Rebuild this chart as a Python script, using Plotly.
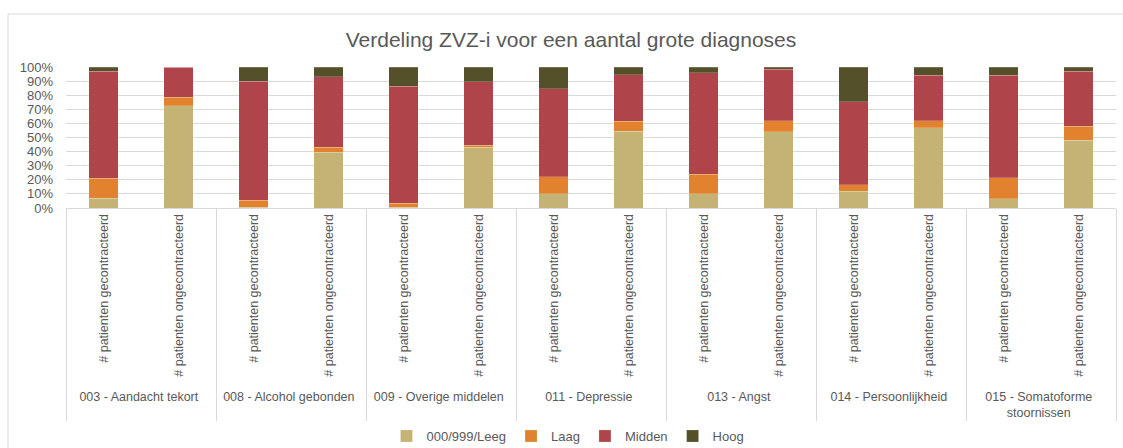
import plotly.graph_objects as go

groups = ["003 - Aandacht tekort", "008 - Alcohol gebonden", "009 - Overige middelen",
          "011 - Depressie", "013 - Angst", "014 - Persoonlijkheid",
          "015 - Somatoforme<br>stoornissen"]
subcats = ["# patienten gecontracteerd", "# patienten ongecontracteerd"]

# values in percent, order: for each group (gecontracteerd, ongecontracteerd)
leeg   = [7, 72.5, 0.5, 39.5, 0.5, 43, 10, 54.5, 10, 54, 12, 57, 6.5, 48]
laag   = [14, 6, 5, 3.5, 3, 1.5, 12, 7, 14, 8, 4.5, 5, 15, 10]
midden = [76, 21.5, 84.5, 50, 83, 45, 62.5, 33, 72, 36.5, 59, 32, 72.5, 39]
hoog   = [3, 0, 10, 7, 13.5, 10.5, 15.5, 5.5, 4, 1.5, 24.5, 6, 6, 3]

series = [("000/999/Leeg", leeg, "#C4B374"),
          ("Laag", laag, "#E2822E"),
          ("Midden", midden, "#B0444B"),
          ("Hoog", hoog, "#54502A")]

x_outer = [g for g in groups for _ in subcats]
x_inner = [s for _ in groups for s in subcats]

fig = go.Figure()
for name, vals, col in series:
    fig.add_trace(go.Bar(x=[x_outer, x_inner], y=vals, name=name,
                         marker=dict(color=col, line=dict(color="rgba(255,255,255,0.4)", width=0.5))))

FONT = "Liberation Sans"
W, H = 1123, 448
ml, mr, mt, mb = 66, 7, 67, 240
pw = W - ml - mr
ph = H - mt - mb

def px2x(px):
    return (px - ml) / pw

def py2y(py):
    return (H - mb - py) / ph

fig.update_layout(
    width=W, height=H,
    margin=dict(l=ml, r=mr, t=mt, b=mb, autoexpand=False),
    barmode="stack",
    bargap=0.61,
    plot_bgcolor="white", paper_bgcolor="white",
    font=dict(family=FONT, color="#595959", size=12),
    title=dict(text="Verdeling ZVZ-i voor een aantal grote diagnoses",
               x=571 / W, xanchor="center", y=1 - 40 / H, yanchor="middle",
               font=dict(size=21, color="#595959", family=FONT), automargin=False),
    legend=dict(orientation="h", xref="paper", yref="paper",
                x=px2x(568), xanchor="center", y=py2y(436), yanchor="middle",
                font=dict(size=13, color="#595959"), traceorder="normal",
                itemwidth=30),
    showlegend=True,
)
fig.update_yaxes(range=[0, 100], dtick=10, ticksuffix="%", showgrid=True,
                 gridcolor="#D9D9D9", gridwidth=1, zeroline=False, automargin=False,
                 tickfont=dict(size=13, color="#595959"), ticks="", showline=False,
                 ticklabelstandoff=12)
fig.update_xaxes(type="multicategory", tickangle=-90, showline=True, linecolor="#D9D9D9",
                 showdividers=True, dividercolor="#D9D9D9", dividerwidth=1, automargin=False,
                 tickfont=dict(size=12.5, color="#595959"), ticks="")

fig.add_shape(type="rect", xref="paper", yref="paper",
              x0=px2x(8), x1=px2x(1135), y0=py2y(470), y1=py2y(14),
              line=dict(color="#D9D9D9", width=1), fillcolor="rgba(0,0,0,0)", layer="below")

fig.write_html("out.html", config={"displayModeBar": False},
               post_script="document.body.style.margin='0';document.body.style.overflow='hidden';")
